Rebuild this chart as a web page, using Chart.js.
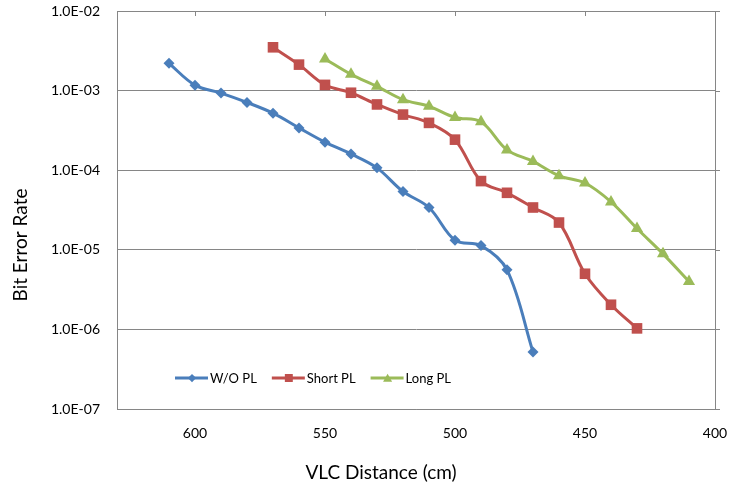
<!DOCTYPE html>
<html>
<head>
<meta charset="utf-8">
<script src="https://cdn.jsdelivr.net/npm/chart.js@4"></script>
<style>
  html, body { margin: 0; padding: 0; background: #fff; }
  #wrap { width: 745px; height: 491px; }
</style>
</head>
<body>
<div id="wrap"><canvas id="berChart" width="745" height="491"></canvas></div>
<script>
// data
const seriesNames = ['W/O PL', 'Short PL', 'Long PL'];
const wopDistance = [610, 600, 590, 580, 570, 560, 550, 540, 530, 520, 510, 500, 490, 480, 470];
const wopBer = [2.2e-3, 1.17e-3, 9.3e-4, 7.1e-4, 5.2e-4, 3.4e-4, 2.25e-4, 1.6e-4, 1.07e-4, 5.4e-5, 3.4e-5, 1.32e-5, 1.13e-5, 5.6e-6, 5.2e-7];
const shortDistance = [570, 560, 550, 540, 530, 520, 510, 500, 490, 480, 470, 460, 450, 440, 430];
const shortBer = [3.5e-3, 2.12e-3, 1.18e-3, 9.4e-4, 6.7e-4, 5.0e-4, 3.93e-4, 2.42e-4, 7.3e-5, 5.2e-5, 3.4e-5, 2.2e-5, 5.0e-6, 2.04e-6, 1.03e-6];
const longDistance = [550, 540, 530, 520, 510, 500, 490, 480, 470, 460, 450, 440, 430, 420, 410];
const longBer = [2.5e-3, 1.6e-3, 1.13e-3, 7.7e-4, 6.35e-4, 4.6e-4, 4.05e-4, 1.8e-4, 1.29e-4, 8.5e-5, 6.9e-5, 4.0e-5, 1.85e-5, 8.9e-6, 4.0e-6];
const xTicks = [400, 450, 500, 550, 600];
const yTicks = [1e-7, 1e-6, 1e-5, 1e-4, 1e-3, 1e-2];

const FONT = 'Lato, "Open Sans", sans-serif';
const gridColor = '#868686';

function pts(xs, ys) {
    return xs.map((x, i) => ({ x: x, y: ys[i] }));
}

function sciLabel(v) {
    const e = Math.round(Math.log10(v));
    const sign = e < 0 ? '-' : '+';
    return '1.0E' + sign + String(Math.abs(e)).padStart(2, '0');
}

// frame, small tick marks, in-plot legend and axis titles
const extras = {
    id: 'extras',
    afterDraw(chart) {
        const ctx = chart.ctx;
        const a = chart.chartArea;
        const xs = chart.scales.x, ys = chart.scales.y;
        ctx.save();
        ctx.strokeStyle = gridColor;
        ctx.lineWidth = 1;
        ctx.beginPath();
        ctx.moveTo(a.left, a.top + 0.5); ctx.lineTo(a.right, a.top + 0.5);
        ctx.moveTo(a.right + 0.5, a.top); ctx.lineTo(a.right + 0.5, a.bottom);
        xTicks.forEach(v => {
            const px = Math.round(xs.getPixelForValue(v)) + 0.5;
            ctx.moveTo(px, a.top); ctx.lineTo(px, a.top + 5);
        });
        yTicks.forEach(v => {
            const py = Math.round(ys.getPixelForValue(v)) + 0.5;
            ctx.moveTo(a.right, py); ctx.lineTo(a.right + 5, py);
        });
        ctx.stroke();

        // legend
        ctx.font = '13px ' + FONT;
        ctx.textBaseline = 'middle';
        ctx.fillStyle = '#000';
        let x = 175;
        const y = 378;
        chart.data.datasets.forEach(ds => {
            ctx.strokeStyle = ds.borderColor;
            ctx.lineWidth = 3;
            ctx.beginPath();
            ctx.moveTo(x, y); ctx.lineTo(x + 33, y);
            ctx.stroke();
            ctx.fillStyle = ds.backgroundColor;
            Chart.helpers.drawPoint(ctx, { pointStyle: ds.pointStyle, radius: ds.pointRadius * 0.75, borderWidth: 0 }, x + 17, y + (ds.pointStyle === 'triangle' ? 1 : 0));
            ctx.fillStyle = '#000';
            ctx.fillText(ds.label, x + 35, y + 1);
            x += 35 + ctx.measureText(ds.label).width + 15;
        });

        ctx.font = '19px ' + FONT;
        ctx.textAlign = 'center';
        ctx.fillText('VLC Distance (cm)', 381, 473);
        ctx.translate(21, 245);
        ctx.rotate(-Math.PI / 2);
        ctx.fillText('Bit Error Rate', 0, 0);
        ctx.restore();
    }
};

function makeSet(label, data, color, style, radius) {
    return {
        label: label,
        data: data,
        borderColor: color,
        backgroundColor: color,
        borderWidth: 3,
        pointStyle: style,
        pointRadius: radius,
        pointHoverRadius: radius,
        pointBorderWidth: 0,
        tension: 0.35,
        fill: false
    };
}

const data = {
    datasets: [
        makeSet(seriesNames[0], pts(wopDistance, wopBer), '#4A7EBB', 'rectRot', 5.5),
        makeSet(seriesNames[1], pts(shortDistance, shortBer), '#C0504D', 'rect', 7.5),
        makeSet(seriesNames[2], pts(longDistance, longBer), '#9BBB59', 'triangle', 7)
    ]
};

const config = {
    type: 'line',
    data,
    plugins: [extras],
    options: {
        responsive: false,
        animation: false,
        layout: { padding: { top: 11, right: 30, left: 0, bottom: 0 } },
        plugins: {
            legend: { display: false },
            tooltip: { enabled: false }
        },
        scales: {
            x: {
                type: 'linear',
                reverse: true,
                min: 400,
                max: 630,
                afterBuildTicks: s => { s.ticks = xTicks.map(v => ({ value: v })); },
                afterFit: s => { s.height = 82; s.paddingLeft = 0; s.paddingRight = 0; },
                grid: { display: false, drawTicks: false },
                border: { display: true, color: gridColor, width: 1 },
                ticks: {
                    padding: 16,
                    color: '#000',
                    font: { family: FONT, size: 14 },
                    maxRotation: 0
                }
            },
            y: {
                type: 'logarithmic',
                min: 1e-7,
                max: 1e-2,
                afterBuildTicks: s => { s.ticks = yTicks.map(v => ({ value: v })); },
                afterFit: s => { s.width = 117; s.paddingTop = 0; s.paddingBottom = 0; },
                grid: { color: gridColor, lineWidth: 1, drawTicks: false },
                border: { display: true, color: gridColor, width: 1 },
                ticks: {
                    padding: 17,
                    color: '#000',
                    font: { family: FONT, size: 14 },
                    callback: v => sciLabel(v)
                }
            }
        }
    }
};

new Chart(document.getElementById('berChart'), config);
</script>
</body>
</html>
